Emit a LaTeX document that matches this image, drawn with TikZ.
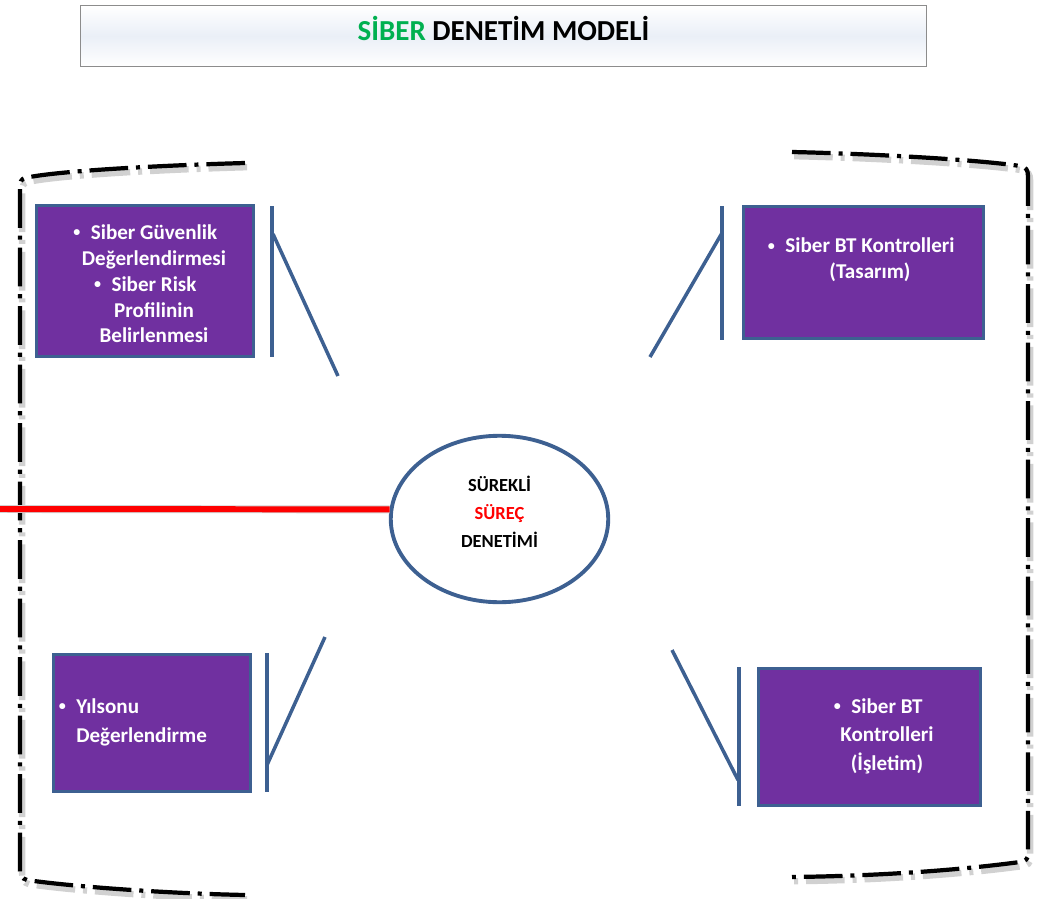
\documentclass[tikz,border=0pt]{standalone}
\usepackage{fontspec}
\setmainfont{Carlito}
\usepackage{tikz}
\usetikzlibrary{shapes.geometric}

\definecolor{boxpurple}{RGB}{112,48,160}
\definecolor{edgeblue}{RGB}{61,96,145}
\definecolor{titlegreen}{RGB}{0,176,80}
\definecolor{titlefill}{RGB}{234,239,247}

\newcommand{\bul}{\llap{\raisebox{1.6pt}{\fontsize{8}{8}\selectfont\textbullet}\hspace{6pt}}}

\begin{document}
\begin{tikzpicture}[x=0.02cm,y=-0.02cm,font=\bfseries]
		\tikzstyle{title}=[rectangle, draw=black!45, line width=0.6pt, top color=white, bottom color=white, middle color=titlefill, minimum width=16.92cm, minimum height=1.22cm, text height=0.62em, text depth=0.1em, font=\bfseries\fontsize{16.5}{19}\selectfont]
		\tikzstyle{box}=[rectangle, draw=edgeblue, line width=1.5pt, fill=boxpurple, inner sep=0pt]
		\tikzstyle{box text}=[text=white, inner sep=0pt, align=center, font=\bfseries\fontsize{12}{14.7}\selectfont]
		\tikzstyle{bar}=[draw=edgeblue, line width=2pt]
		\tikzstyle{frame}=[line width=2.4pt, dash pattern=on 22pt off 4.5pt on 2.3pt off 4.5pt]
		\tikzstyle{frame shadow}=[frame, draw=black!18, line width=3.6pt, xshift=1.2pt, yshift=-2.4pt]
		\tikzstyle{red line}=[draw=red, line width=3.4pt]

		\useasboundingbox (0,0) rectangle (1038,899);

		% title
		\node [title] (title) at (503.5,36) {\textcolor{titlegreen}{SİBER} DENETİM MODELİ};

		% dashed frames, left and right
		\foreach \s in {frame shadow,frame} {
			\draw [\s] (245,163) .. controls (140,166) and (50,172) .. (25,178)
				.. controls (21,179) and (20,182) .. (20,188) -- (20,870)
				.. controls (20,876) and (21,878) .. (27,880)
				.. controls (60,885) and (150,893) .. (245,895);
			\draw [\s] (792,152) .. controls (880,154) and (980,160) .. (1020,166)
				.. controls (1026,167) and (1028,170) .. (1028,176) -- (1028,854)
				.. controls (1028,859) and (1026,861) .. (1020,862)
				.. controls (960,870) and (880,876) .. (792,877);
		}

		% centre
		\coordinate (redstart) at (0,509);
		\node [ellipse, draw=edgeblue, line width=2.2pt, fill=white, minimum width=4.35cm, minimum height=3.33cm, inner sep=0pt] (circ) at (499.5,519) {};
		\draw [red line, draw=black!18, line width=4.5pt, yshift=-2pt] (redstart) -- (circ.175);
		\draw [red line] (redstart) -- (circ.175);
		\node [inner sep=0pt, align=center, font=\bfseries\fontsize{10.5}{15.9}\selectfont] (circtext) at (499.5,512) {SÜREKLİ\\\textcolor{red}{SÜREÇ}\\DENETİMİ};

		% top left
		\node [box, minimum width=4.35cm, minimum height=3.03cm] (tl) at (145,281) {};
		\node [box text] (tltext) at (154,284) {\bul Siber Güvenlik\\Değerlendirmesi\\\bul Siber Risk\\Profilinin\\Belirlenmesi};
		\coordinate (tltop) at (272,206);
		\coordinate (tlbot) at (272,357);
		\coordinate (tlknee) at (273,234);
		\coordinate (tlend) at (338,376);
		\draw [bar] (tltop) -- (tlbot);
		\draw [bar] (tlknee) -- (tlend);

		% top right
		\node [box, minimum width=4.81cm, minimum height=2.65cm] (tr) at (863.5,272.5) {};
		\node [box text] (trtext) at (870,260) {\bul Siber BT Kontrolleri\\(Tasarım)};
		\coordinate (trtop) at (722,206);
		\coordinate (trbot) at (722,340);
		\coordinate (trknee) at (722,233);
		\coordinate (trend) at (650,357);
		\draw [bar] (trtop) -- (trbot);
		\draw [bar] (trknee) -- (trend);

		% bottom left
		\node [box, minimum width=3.95cm, minimum height=2.75cm] (bl) at (152,723) {};
		\node [box text, align=left, anchor=west, font=\bfseries\fontsize{12}{16.4}\selectfont] (bltext) at (76,722) {\bul Yılsonu\\Değerlendirme};
		\coordinate (bltop) at (267,653);
		\coordinate (blbot) at (267,792);
		\coordinate (blknee) at (267,765);
		\coordinate (blend) at (325,637);
		\draw [bar] (bltop) -- (blbot);
		\draw [bar] (blknee) -- (blend);

		% bottom right
		\node [box, minimum width=4.45cm, minimum height=2.75cm] (br) at (869.5,737) {};
		\node [box text, font=\bfseries\fontsize{12}{16.2}\selectfont] (brtext) at (887,736) {\bul Siber BT\\Kontrolleri\\(İşletim)};
		\coordinate (brtop) at (739,667);
		\coordinate (brbot) at (739,806);
		\coordinate (brknee) at (738,780);
		\coordinate (brend) at (672,650);
		\draw [bar] (brtop) -- (brbot);
		\draw [bar] (brknee) -- (brend);
	\end{tikzpicture}
\end{document}
